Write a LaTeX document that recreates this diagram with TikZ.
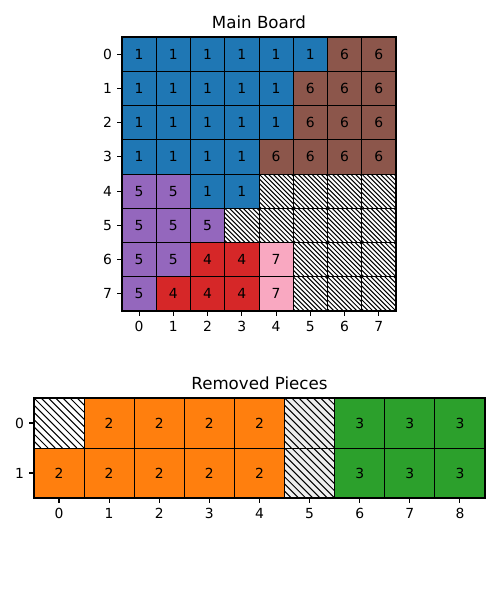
\documentclass[tikz,border=0pt]{standalone}
\usepackage{fontspec}
\setmainfont{DejaVu Sans}
\definecolor{c0}{HTML}{FFFFFF}
\definecolor{c1}{HTML}{1F77B4}
\definecolor{c2}{HTML}{FF7F0E}
\definecolor{c3}{HTML}{2CA02C}
\definecolor{c4}{HTML}{D62728}
\definecolor{c5}{HTML}{9467BD}
\definecolor{c6}{HTML}{8C564B}
\definecolor{c7}{HTML}{F9A8C1}
\definecolor{c9}{HTML}{EEEEEE}
\newcommand\hatchcell[5]{%
  \begin{scope}
    \clip (#1,#2) rectangle ++(#3,#4);
    \foreach \k in {-14,...,14} \draw[hatchline] ({#1+\k*#5},#2) -- ++(#4,#4);
  \end{scope}
  \draw[gridline] (#1,#2) rectangle ++(#3,#4);}
\tikzset{
  cellbox/.style={rectangle, draw=black, line width=0.6pt, inner sep=0pt,
    font=\fontsize{10}{12}\selectfont},
  hatchline/.style={line width=0.75pt, black},
  gridline/.style={line width=0.6pt, black},
  frame/.style={line width=0.8pt, black},
  ticklab/.style={font=\fontsize{10}{12}\selectfont, inner sep=0pt},
  titlelab/.style={font=\fontsize{12}{14}\selectfont, inner sep=0pt, anchor=base},
}
\begin{document}
\begin{tikzpicture}[x=0.72pt,y=-0.72pt]
\useasboundingbox (0,0) rectangle (500,600);
% ---------- Main board ----------
\def\mx{122}\def\my{37}\def\ms{34.25}
\foreach \r/\row in {0/{1,1,1,1,1,1,6,6},1/{1,1,1,1,1,6,6,6},2/{1,1,1,1,1,6,6,6},3/{1,1,1,1,6,6,6,6},
  4/{5,5,1,1,0,0,0,0},5/{5,5,5,0,0,0,0,0},6/{5,5,4,4,7,0,0,0},7/{5,4,4,4,7,0,0,0}}{
  \foreach \v [count=\c from 0] in \row {
    \node[cellbox, fill=c\v, minimum width=\ms*0.72pt, minimum height=\ms*0.72pt]
      (m-\r-\c) at ({\mx+(\c+0.5)*\ms},{\my+(\r+0.5)*\ms}) {\ifnum\v=0 \else\v\fi};
  }
}
\foreach \r/\c in {4/4,4/5,4/6,4/7,5/3,5/4,5/5,5/6,5/7,6/5,6/6,6/7,7/5,7/6,7/7}{
  \hatchcell{\mx+\c*\ms}{\my+\r*\ms}{\ms}{\ms}{4.6}
}
\draw[frame] (\mx,\my) rectangle ++({8*\ms},{8*\ms});
\foreach \i in {0,...,7}{
  \draw[frame] ({\mx+(\i+0.5)*\ms},{\my+8*\ms}) -- ++(0,4.9);
  \node[ticklab, anchor=north] (mxl-\i) at ({\mx+(\i+0.5)*\ms},{\my+8*\ms+9.7}) {\i};
  \draw[frame] (\mx,{\my+(\i+0.5)*\ms}) -- ++(-4.9,0);
  \node[ticklab, anchor=east] (myl-\i) at ({\mx-9.7},{\my+(\i+0.5)*\ms}) {\i};
}
\node[titlelab] (t1) at ({\mx+4*\ms},28.7) {Main Board};
% ---------- Removed pieces ----------
\def\bx{34}\def\by{398}\def\bw{50.11}\def\bh{50}
\foreach \r/\row in {0/{0,2,2,2,2,9,3,3,3},1/{2,2,2,2,2,9,3,3,3}}{
  \foreach \v [count=\c from 0] in \row {
    \node[cellbox, fill=c\v, minimum width=\bw*0.72pt, minimum height=\bh*0.72pt]
      (b-\r-\c) at ({\bx+(\c+0.5)*\bw},{\by+(\r+0.5)*\bh}) {\ifnum\v=0 \else\ifnum\v=9 \else\v\fi\fi};
  }
}
\foreach \r/\c in {0/0,0/5,1/5}{
  \hatchcell{\bx+\c*\bw}{\by+\r*\bh}{\bw}{\bh}{7.2}
}
\draw[frame] (\bx,\by) rectangle ++({9*\bw},{2*\bh});
\foreach \i in {0,...,8}{
  \draw[frame] ({\bx+(\i+0.5)*\bw},{\by+2*\bh}) -- ++(0,4.9);
  \node[ticklab, anchor=north] (bxl-\i) at ({\bx+(\i+0.5)*\bw},{\by+2*\bh+9.7}) {\i};
}
\foreach \i in {0,1}{
  \draw[frame] (\bx,{\by+(\i+0.5)*\bh}) -- ++(-4.9,0);
  \node[ticklab, anchor=east] (byl-\i) at ({\bx-9.7},{\by+(\i+0.5)*\bh}) {\i};
}
\node[titlelab] (t2) at ({\bx+4.5*\bw},389.7) {Removed Pieces};
\end{tikzpicture}
\end{document}
